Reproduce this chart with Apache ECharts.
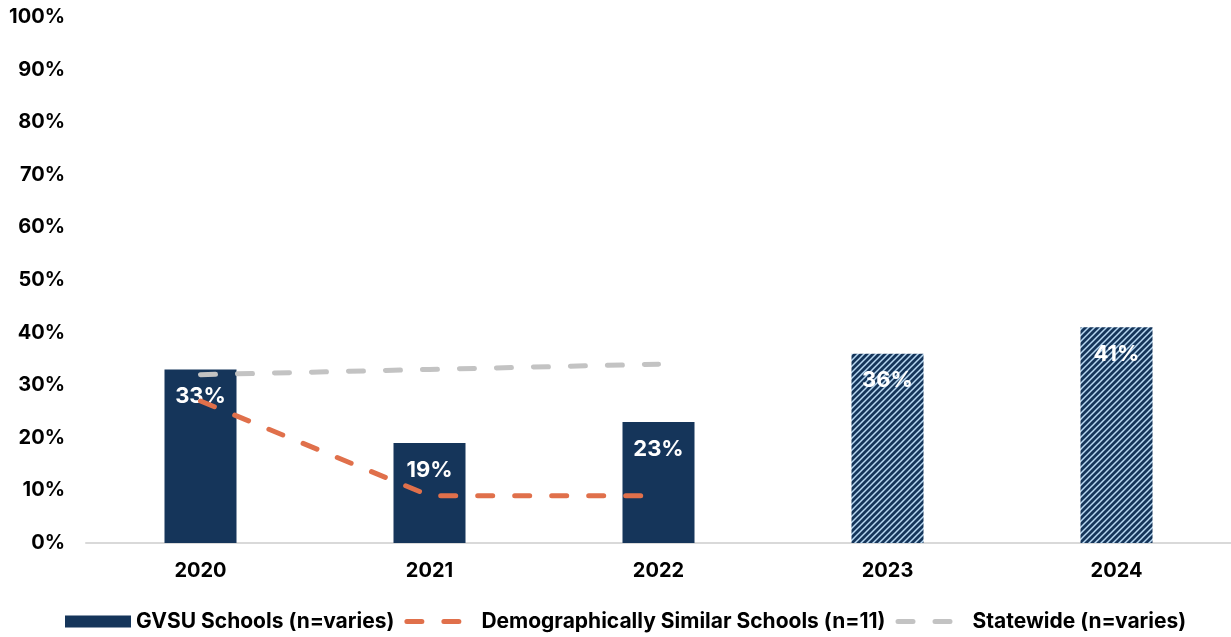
<!DOCTYPE html>
<html>
<head>
<meta charset="utf-8">
<script src="https://cdn.jsdelivr.net/npm/echarts@6/dist/echarts.min.js"></script>
<style>
  html, body { margin: 0; padding: 0; background: #fff; }
  #chart { width: 1231px; height: 637px; }
</style>
</head>
<body>
<div id="chart"></div>
<script>
// Survey years and results (percent)
const years = ['2020', '2021', '2022', '2023', '2024'];
const gvsuSchools = [33, 19, 23, 36, 41];
const similarSchools = [27, 9, 9, null, null];
const statewide = [32, 33, 34, null, null];
// Years whose bars are drawn with the striped fill
const stripedYears = ['2023', '2024'];

const NAVY = '#15355A';
const ORANGE = '#E0704B';
const GREY = '#C3C3C3';
const FONT = 'Inter, Lato, "DejaVu Sans", sans-serif';

// Legend glyph for the dashed lines: two rounded dashes in a 66x12 box
const DASH_ICON = 'path://M0 0 M66 12 ' +
  'M2.5 3.5 H17.5 A2.5 2.5 0 0 1 17.5 8.5 H2.5 A2.5 2.5 0 0 1 2.5 3.5 Z ' +
  'M39.5 3.5 H54.5 A2.5 2.5 0 0 1 54.5 8.5 H39.5 A2.5 2.5 0 0 1 39.5 3.5 Z';

// Diagonal stripe tile used for the striped bars
function stripeTile() {
  const s = 6;
  const c = document.createElement('canvas');
  c.width = s; c.height = s;
  const g = c.getContext('2d');
  g.fillStyle = NAVY;
  g.fillRect(0, 0, s, s);
  g.strokeStyle = '#B8D8F2';
  g.lineWidth = 1.5;
  g.beginPath();
  g.moveTo(-1, s + 1); g.lineTo(s + 1, -1);
  g.moveTo(-1, 1); g.lineTo(1, -1);
  g.moveTo(s - 1, s + 1); g.lineTo(s + 1, s - 1);
  g.stroke();
  return c;
}
const stripes = { image: stripeTile(), repeat: 'repeat' };

const barData = years.map((y, i) => ({
  value: gvsuSchools[i],
  itemStyle: stripedYears.includes(y) ? { color: stripes } : undefined
}));

const chart = echarts.init(document.getElementById('chart'), null, { renderer: 'canvas' });
chart.setOption({
  animation: false,
  textStyle: { fontFamily: FONT },
  grid: { left: 86, right: 0, top: 17, bottom: 94 },
  legend: {
    left: 60,
    bottom: 0,
    itemWidth: 66,
    itemHeight: 12,
    itemGap: 10,
    textStyle: { fontFamily: FONT, fontSize: 21, fontWeight: 'bold', color: '#000' },
    data: [
      { name: 'GVSU Schools (n=varies)', icon: 'rect', itemStyle: { color: NAVY } },
      { name: 'Demographically Similar Schools (n=11)', icon: DASH_ICON, itemStyle: { color: ORANGE }, textStyle: { padding: [0, 0, 0, 6] } },
      { name: 'Statewide (n=varies)', icon: DASH_ICON, itemStyle: { color: GREY }, textStyle: { padding: [0, 0, 0, 6] } }
    ]
  },
  xAxis: {
    type: 'category',
    data: years,
    axisLine: { lineStyle: { color: '#D9D9D9', width: 2 } },
    axisTick: { show: false },
    axisLabel: { color: '#000', fontSize: 20, fontWeight: 'bold', margin: 18, fontFamily: FONT }
  },
  yAxis: {
    type: 'value',
    min: 0,
    max: 100,
    interval: 10,
    splitLine: { show: false },
    axisLine: { show: false },
    axisTick: { show: false },
    axisLabel: { color: '#000', fontSize: 20, fontWeight: 'bold', margin: 21, formatter: '{value}%', fontFamily: FONT }
  },
  series: [
    {
      name: 'GVSU Schools (n=varies)',
      type: 'bar',
      data: barData,
      barWidth: 72,
      itemStyle: { color: NAVY },
      label: {
        show: true,
        position: 'insideTop',
        distance: 16,
        formatter: '{c}%',
        color: '#fff',
        fontSize: 22,
        fontWeight: 'bold',
        fontFamily: FONT
      },
      z: 2
    },
    {
      name: 'Demographically Similar Schools (n=11)',
      type: 'line',
      data: similarSchools,
      symbol: 'none',
      itemStyle: { color: ORANGE },
      lineStyle: { color: ORANGE, width: 5, type: [15, 22], cap: 'round' },
      z: 3
    },
    {
      name: 'Statewide (n=varies)',
      type: 'line',
      data: statewide,
      symbol: 'none',
      itemStyle: { color: GREY },
      lineStyle: { color: GREY, width: 5, type: [15, 22], cap: 'round' },
      z: 3
    }
  ]
});
</script>
</body>
</html>
